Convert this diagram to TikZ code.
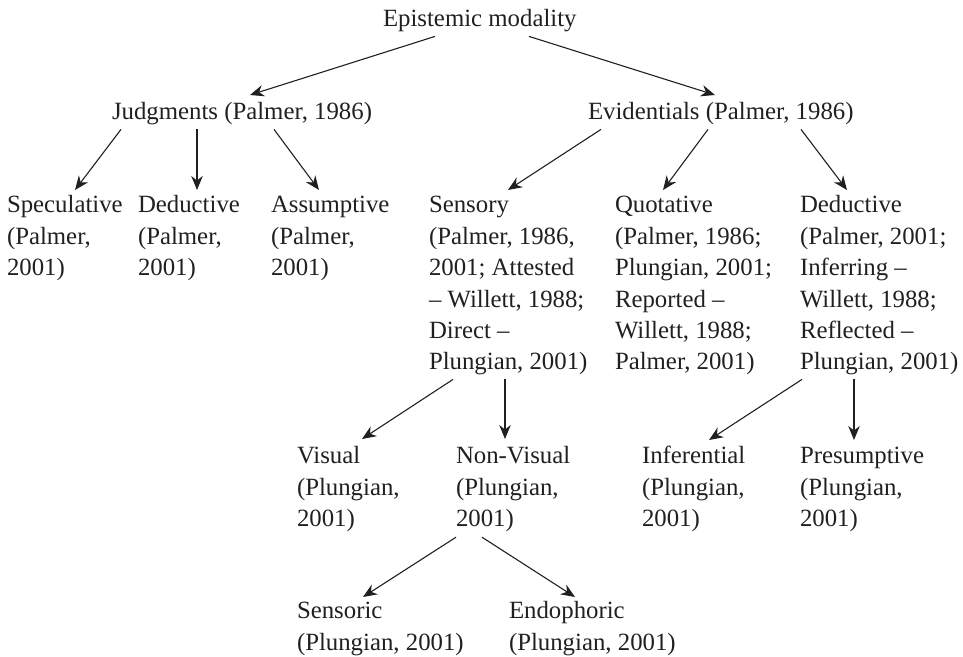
\documentclass[tikz,border=0pt]{standalone}
\usepackage{fontspec}
\setmainfont{Liberation Serif}
\usetikzlibrary{arrows.meta}
\definecolor{ink}{HTML}{231F20}
\begin{document}
\begin{tikzpicture}[x=1pt,y=-1pt,
  lbl/.style={inner sep=0pt,outer sep=0pt,anchor=north west,align=left,text=ink,
    font=\fontsize{24.8}{31.4}\selectfont},
  arr/.style={draw=ink,line width=1.1pt,-{Stealth[length=14pt,width=11.5pt,inset=4.5pt]}}]
\useasboundingbox (0,0) rectangle (963,656);
% nodes (top = baseline - 22)
\node[lbl] (epi)  at (383,5)   {\strut Epistemic modality\strut};
\node[lbl] (judg) at (112,98)  {\strut Judgments (Palmer, 1986)\strut};
\node[lbl] (evid) at (588,98)  {\strut Evidentials (Palmer, 1986)\strut};
\node[lbl] (spec) at (7,191)   {\strut Speculative\\(Palmer,\\2001)\strut};
\node[lbl] (ded1) at (138,191) {\strut Deductive\\(Palmer,\\2001)\strut};
\node[lbl] (assm) at (271,191) {\strut Assumptive\\(Palmer,\\2001)\strut};
\node[lbl] (sens) at (429,191) {\strut Sensory\\(Palmer, 1986,\\2001; Attested\\– Willett, 1988;\\Direct –\\Plungian, 2001)\strut};
\node[lbl] (quot) at (615,191) {\strut Quotative\\(Palmer, 1986;\\Plungian, 2001;\\Reported –\\Willett, 1988;\\Palmer, 2001)\strut};
\node[lbl] (ded2) at (800,191) {\strut Deductive\\(Palmer, 2001;\\Inferring –\\Willett, 1988;\\Reflected –\\Plungian, 2001)\strut};
\node[lbl] (vis)  at (297,442) {\strut Visual\\(Plungian,\\2001)\strut};
\node[lbl] (nonv) at (456,442) {\strut Non-Visual\\(Plungian,\\2001)\strut};
\node[lbl] (infr) at (642,442) {\strut Inferential\\(Plungian,\\2001)\strut};
\node[lbl] (pres) at (800,442) {\strut Presumptive\\(Plungian,\\2001)\strut};
\node[lbl] (sensc) at (297,597) {\strut Sensoric\\(Plungian, 2001)\strut};
\node[lbl] (endo) at (509,597) {\strut Endophoric\\(Plungian, 2001)\strut};
% connectors
\draw[arr] ([shift={(52,0)}]epi.south west) -- ([shift={(138,-3)}]judg.north west);
\draw[arr] ([shift={(146,0)}]epi.south west) -- ([shift={(127,-3)}]evid.north west);
\draw[arr] ([shift={(9,0)}]judg.south west) -- ([shift={(68,-1)}]spec.north west);
\draw[arr] ([shift={(85,0)}]judg.south west) -- ([shift={(59,-1)}]ded1.north west);
\draw[arr] ([shift={(162,0)}]judg.south west) -- ([shift={(48,-1)}]assm.north west);
\draw[arr] ([shift={(13,0)}]evid.south west) -- ([shift={(79,-1)}]sens.north west);
\draw[arr] ([shift={(120,0)}]evid.south west) -- ([shift={(48,-1)}]quot.north west);
\draw[arr] ([shift={(213,0)}]evid.south west) -- ([shift={(47,-1)}]ded2.north west);
\draw[arr] ([shift={(24,0)}]sens.south west) -- ([shift={(65,-3)}]vis.north west);
\draw[arr] ([shift={(76,0)}]sens.south west) -- ([shift={(49,-3)}]nonv.north west);
\draw[arr] ([shift={(2,0)}]ded2.south west) -- ([shift={(67,-2)}]infr.north west);
\draw[arr] ([shift={(54,0)}]ded2.south west) -- ([shift={(54,-2)}]pres.north west);
\draw[arr] ([shift={(0,1)}]nonv.south west) -- ([shift={(66,0)}]sensc.north west);
\draw[arr] ([shift={(26,1)}]nonv.south west) -- ([shift={(66,0)}]endo.north west);
\end{tikzpicture}
\end{document}
